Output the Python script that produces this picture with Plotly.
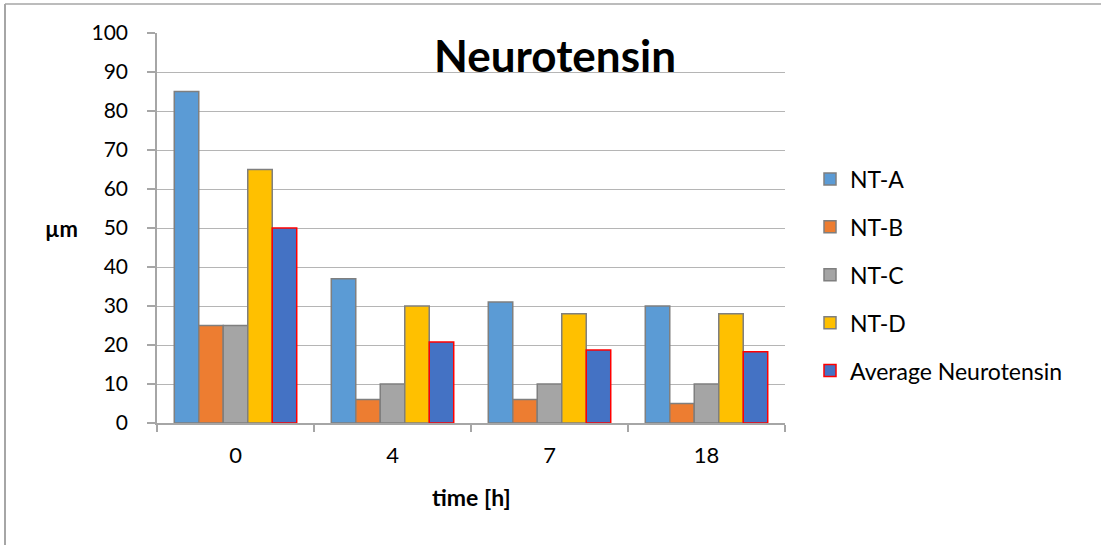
import plotly.graph_objects as go

categories = ["0", "4", "7", "18"]
nt_a = [85, 37, 31, 30]
nt_b = [25, 6, 6, 5]
nt_c = [25, 10, 10, 10]
nt_d = [65, 30, 28, 28]
average = [50, 20.75, 18.75, 18.25]

series = [
    ("NT-A", nt_a, "#5b9bd5", "#7f7f7f"),
    ("NT-B", nt_b, "#ed7d31", "#7f7f7f"),
    ("NT-C", nt_c, "#a5a5a5", "#7f7f7f"),
    ("NT-D", nt_d, "#ffc000", "#7f7f7f"),
    ("Average Neurotensin", average, "#4472c4", "#ff0000"),
]

FONT = "Lato, 'Liberation Sans', Arial, sans-serif"

fig = go.Figure()
for i, (name, vals, color, lc) in enumerate(series):
    fig.add_trace(go.Bar(
        x=categories, y=vals, name=name, legendgroup=f"g{i}",
        marker=dict(color=color, line=dict(color=lc, width=1.5)),
    ))

W, H = 1101, 545
L, R, T, B = 157, 785, 33, 423
pw, ph = R - L, B - T

def px(x):
    return (x - L) / pw

def py(y):
    return (B - y) / ph

fig.update_layout(
    width=W, height=H,
    margin=dict(l=L, r=W - R, t=T, b=H - B, pad=0),
    paper_bgcolor="white", plot_bgcolor="white",
    font=dict(family=FONT, size=21, color="black"),
    barmode="group", bargap=0.22, bargroupgap=0,
    showlegend=True,
    legend=dict(
        x=px(810), xanchor="left", y=py(275), yanchor="middle",
        font=dict(size=23), tracegroupgap=15,
        bgcolor="rgba(0,0,0,0)",
    ),
    xaxis=dict(
        type="category", showline=True, linecolor="#a6a6a6", linewidth=1.5,
        ticks="outside", tickson="boundaries", ticklen=7, tickcolor="#a6a6a6",
        tickwidth=1.5, showgrid=False, tickfont=dict(size=22),
        ticklabelstandoff=12,
    ),
    yaxis=dict(
        range=[0, 100], dtick=10, showline=True, linecolor="#a6a6a6",
        linewidth=1.5, ticks="outside", ticklen=8, tickcolor="#a6a6a6",
        tickwidth=1.5, showgrid=True, gridcolor="#b5b5b5", gridwidth=1.2,
        tickfont=dict(size=21), ticklabelstandoff=15, zeroline=False,
    ),
    annotations=[
        dict(text="<b>Neurotensin</b>", x=px(555), y=py(55), xref="paper",
             yref="paper", showarrow=False, xanchor="center", yanchor="middle",
             font=dict(size=44, family=FONT)),
        dict(text="<b>µm</b>", x=px(61), y=py(228), xref="paper", yref="paper",
             showarrow=False, xanchor="center", yanchor="middle",
             font=dict(size=22)),
        dict(text="<b>time [h]</b>", x=px(471), y=py(497), xref="paper",
             yref="paper", showarrow=False, xanchor="center", yanchor="middle",
             font=dict(size=23)),
    ],
    shapes=[
        dict(type="line", xref="paper", yref="paper", x0=px(5), x1=px(1101),
             y0=py(4), y1=py(4), line=dict(color="#a6a6a6", width=1.5)),
        dict(type="line", xref="paper", yref="paper", x0=px(5), x1=px(5),
             y0=py(4), y1=py(545), line=dict(color="#a6a6a6", width=2)),
    ],
)

fig.write_html("out.html")
